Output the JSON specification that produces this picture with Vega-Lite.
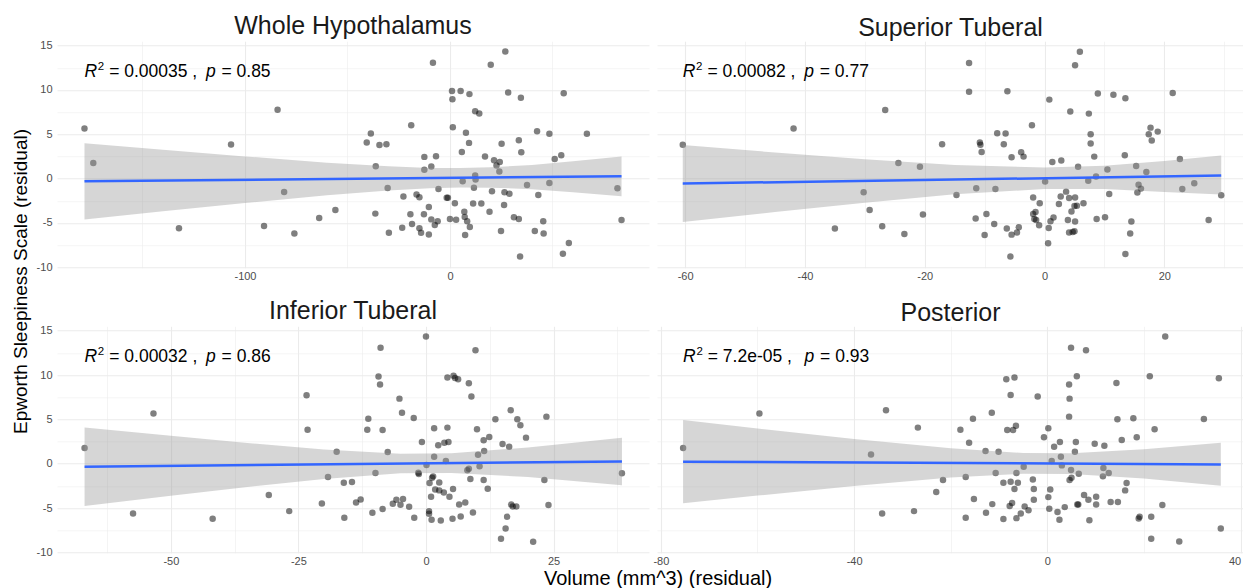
{
"$schema": "https://vega.github.io/schema/vega-lite/v6.json",
"background": "white",
"padding": {"left": 11, "top": 13.2, "right": 0, "bottom": 0},
"title": {"text": "Epworth Sleepiness Scale (residual)", "orient": "left", "anchor": "middle", "fontSize": 19, "frame": "bounds", "baseline": "bottom", "offset": -13.5, "dx": 20, "color": "#000000"},
"config": {
  "view": {"stroke": null},
  "font": "Liberation Sans",
  "axis": {"domain": false, "ticks": false, "tickSize": 0, "gridColor": "#EBEBEB", "labelColor": "#4D4D4D", "labelFontSize": 11, "labelFont": "Liberation Sans", "labelOverlap": false},
  "axisX": {"labelPadding": 3},
  "axisY": {"labelPadding": 5},
  "title": {"fontSize": 25, "fontWeight": "normal", "color": "#1A1A1A", "font": "Liberation Sans", "anchor": "middle", "frame": "group", "offset": 0.5, "baseline": "alphabetic"}
},
"datasets": {
  "p1": [{"x":-178.3,"y":5.65},{"x":-174,"y":1.77},{"x":-132.2,"y":-5.6},{"x":-106.8,"y":3.84},{"x":-90.7,"y":-5.35},{"x":-84.1,"y":7.76},{"x":-80.9,"y":-1.5},{"x":-75.9,"y":-6.2},{"x":-63.8,"y":-4.44},{"x":-55.9,"y":-3.54},{"x":-40.6,"y":4.07},{"x":-38.6,"y":5.08},{"x":-36.2,"y":1.39},{"x":-36.4,"y":-3.95},{"x":-34.4,"y":3.8},{"x":-31,"y":3.88},{"x":-30.4,"y":-1.05},{"x":-29.8,"y":-6.1},{"x":-23.3,"y":-5.54},{"x":-22.7,"y":-2.03},{"x":-18.9,"y":6.03},{"x":-19.3,"y":-4.03},{"x":-18.5,"y":-5.12},{"x":-16.3,"y":-1.8},{"x":-14.9,"y":-2.1},{"x":-14.9,"y":-5.6},{"x":-14.1,"y":-6.1},{"x":-12.5,"y":2.45},{"x":-12.5,"y":1.0},{"x":-12.7,"y":-4.03},{"x":-10.3,"y":-3.2},{"x":-10.3,"y":-6.3},{"x":-9.1,"y":1.36},{"x":-9.1,"y":-4.6},{"x":-8.3,"y":13.07},{"x":-7.4,"y":-5.24},{"x":-6.8,"y":2.52},{"x":-6.0,"y":-4.8},{"x":-5.6,"y":-1.17},{"x":-1.6,"y":-2.15},{"x":-1,"y":-2.15},{"x":0,"y":-4.56},{"x":1,"y":9.87},{"x":1.2,"y":8.96},{"x":1.4,"y":5.8},{"x":2.4,"y":-2.79},{"x":3,"y":-4.63},{"x":5.2,"y":9.87},{"x":5.8,"y":3.01},{"x":6.2,"y":-0.3},{"x":7,"y":-3.73},{"x":7.2,"y":-4.33},{"x":7.4,"y":-6.37},{"x":7.8,"y":5.16},{"x":8.4,"y":-4.82},{"x":9.3,"y":4.03},{"x":9.5,"y":9.53},{"x":9.7,"y":-5.46},{"x":11.3,"y":-2.82},{"x":11.7,"y":-1.02},{"x":12.3,"y":7.6},{"x":12.3,"y":0.34},{"x":12.5,"y":-0.1},{"x":14.3,"y":7.34},{"x":15.3,"y":-2.82},{"x":17.1,"y":2.49},{"x":19.3,"y":-3.73},{"x":19.9,"y":12.84},{"x":20.5,"y":-1.43},{"x":21.5,"y":2.07},{"x":22.7,"y":1.47},{"x":24.1,"y":0.79},{"x":24.3,"y":1.88},{"x":24.9,"y":-5.91},{"x":25.2,"y":3.92},{"x":26.4,"y":-2.98},{"x":26.6,"y":-1.54},{"x":27,"y":14.35},{"x":28.4,"y":9.72},{"x":29,"y":-1.7},{"x":31.2,"y":-4.37},{"x":33.6,"y":4.33},{"x":33.6,"y":-4.56},{"x":34.2,"y":-8.78},{"x":34.6,"y":9.11},{"x":34.8,"y":2.98},{"x":37.6,"y":-0.72},{"x":41.4,"y":-5.91},{"x":42.5,"y":5.35},{"x":43.1,"y":-1.85},{"x":45.5,"y":-4.82},{"x":45.7,"y":-6.18},{"x":48.5,"y":-0.49},{"x":48.5,"y":5.05},{"x":51.1,"y":2.22},{"x":54.3,"y":2.64},{"x":55.1,"y":-8.47},{"x":55.5,"y":9.64},{"x":58,"y":-7.27},{"x":66.8,"y":5.05},{"x":81.7,"y":-1.09},{"x":83.7,"y":-4.67}],
  "b1": [{"x":-178.3,"y":-4.6,"y2":4.0},{"x":-140,"y":-3.69,"y2":3.25},{"x":-100,"y":-2.76,"y2":2.5},{"x":-60,"y":-1.88,"y2":1.8},{"x":-30,"y":-1.34,"y2":1.38},{"x":-10,"y":-1.09,"y2":1.21},{"x":5,"y":-1.0,"y2":1.2},{"x":20,"y":-1.02,"y2":1.28},{"x":40,"y":-1.19,"y2":1.53},{"x":60,"y":-1.54,"y2":1.96},{"x":83.7,"y":-2.0,"y2":2.49}],
  "l1": [{"x":-178.3,"y":-0.3},{"x":83.7,"y":0.26}],
  "s1": [{"x":-178.3,"y":11.45,"r2":"= 0.00035 ,","p":"= 0.85"}],
  "p2": [{"x":-60.4,"y":3.83},{"x":-41.9,"y":5.64},{"x":-35,"y":-5.64},{"x":-30.2,"y":-1.54},{"x":-29.2,"y":-3.53},{"x":-27.1,"y":-5.38},{"x":-26.6,"y":7.74},{"x":-24.4,"y":1.77},{"x":-23.4,"y":-6.24},{"x":-20.8,"y":1.35},{"x":-20.3,"y":-4.06},{"x":-17.1,"y":3.87},{"x":-14.7,"y":-1.84},{"x":-12.6,"y":13.05},{"x":-12.6,"y":9.81},{"x":-11.5,"y":-4.51},{"x":-11.4,"y":-1.09},{"x":-10.8,"y":4.06},{"x":-10.7,"y":3.83},{"x":-10.5,"y":3.0},{"x":-10,"y":-6.35},{"x":-9.7,"y":-3.98},{"x":-8.4,"y":-5.11},{"x":-8.2,"y":-1.17},{"x":-7.9,"y":5.11},{"x":-6.8,"y":3.87},{"x":-6.5,"y":5.08},{"x":-6.3,"y":-5.64},{"x":-6.2,"y":9.85},{"x":-5.7,"y":-8.8},{"x":-5.5,"y":-6.32},{"x":-5.5,"y":2.41},{"x":-4.6,"y":-6.09},{"x":-4.3,"y":-5.49},{"x":-3.9,"y":2.97},{"x":-3.5,"y":2.48},{"x":-2.1,"y":6.02},{"x":-1.9,"y":-2.14},{"x":-1.9,"y":-3.98},{"x":-1.7,"y":-4.55},{"x":-1.5,"y":-3.76},{"x":-1.4,"y":-4.66},{"x":-0.9,"y":-5.26},{"x":-0.8,"y":-2.78},{"x":0.1,"y":-0.34},{"x":0.6,"y":-7.29},{"x":0.7,"y":-5.56},{"x":0.8,"y":8.91},{"x":1,"y":-4.81},{"x":1.3,"y":1.88},{"x":1.5,"y":-4.4},{"x":2.4,"y":-2.86},{"x":2.7,"y":-2.03},{"x":2.8,"y":2.03},{"x":3.6,"y":-1.47},{"x":3.9,"y":-4.66},{"x":4.1,"y":-2.18},{"x":4.1,"y":-6.09},{"x":4.3,"y":7.56},{"x":4.5,"y":-3.72},{"x":4.7,"y":-6.02},{"x":5,"y":-3.08},{"x":5,"y":-5.94},{"x":5.1,"y":-4.85},{"x":5.1,"y":12.78},{"x":5.1,"y":-2.14},{"x":5.4,"y":-3.05},{"x":5.6,"y":1.35},{"x":5.9,"y":14.32},{"x":6.5,"y":-2.78},{"x":7.3,"y":-0.23},{"x":7.4,"y":7.33},{"x":7.7,"y":5.0},{"x":7.7,"y":3.95},{"x":8.3,"y":2.48},{"x":8.6,"y":0.23},{"x":8.7,"y":-4.55},{"x":8.9,"y":9.59},{"x":10.1,"y":-4.36},{"x":10.5,"y":1.02},{"x":10.8,"y":-1.73},{"x":11.5,"y":9.47},{"x":13.4,"y":2.63},{"x":13.5,"y":9.06},{"x":13.5,"y":-8.5},{"x":14.3,"y":-6.2},{"x":14.5,"y":-4.85},{"x":15.3,"y":1.43},{"x":15.5,"y":-1.58},{"x":15.7,"y":-0.68},{"x":16.1,"y":-1.13},{"x":17,"y":0.75},{"x":17.4,"y":5.0},{"x":17.7,"y":5.75},{"x":17.9,"y":4.29},{"x":18.9,"y":5.3},{"x":21.4,"y":9.66},{"x":22.6,"y":2.22},{"x":23,"y":-1.17},{"x":25,"y":-0.53},{"x":27.4,"y":-4.66},{"x":29.5,"y":-1.88}],
  "b2": [{"x":-60.4,"y":-4.9,"y2":3.78},{"x":-45,"y":-3.77,"y2":2.95},{"x":-30,"y":-2.71,"y2":2.19},{"x":-15,"y":-1.76,"y2":1.54},{"x":0,"y":-1.17,"y2":1.25},{"x":10,"y":-1.17,"y2":1.45},{"x":20,"y":-1.51,"y2":1.99},{"x":29.5,"y":-1.8,"y2":2.62}],
  "l2": [{"x":-60.4,"y":-0.56},{"x":29.5,"y":0.34}],
  "s2": [{"x":-60.4,"y":11.45,"r2":"= 0.00082 ,","p":"= 0.77"}],
  "p3": [{"x":-66.9,"y":1.77},{"x":-57.4,"y":-5.61},{"x":-53.4,"y":5.65},{"x":-41.8,"y":-6.21},{"x":-30.8,"y":-3.54},{"x":-26.8,"y":-5.35},{"x":-23.4,"y":7.72},{"x":-23.2,"y":3.84},{"x":-20.4,"y":-4.48},{"x":-19.2,"y":-1.51},{"x":-17.5,"y":1.36},{"x":-16.1,"y":-2.15},{"x":-16,"y":-6.1},{"x":-14.5,"y":-2.07},{"x":-13.7,"y":-4.37},{"x":-12.8,"y":-4.03},{"x":-11.5,"y":3.84},{"x":-11.3,"y":5.08},{"x":-10.5,"y":-5.54},{"x":-9.9,"y":-1.05},{"x":-9.3,"y":9.83},{"x":-9,"y":8.93},{"x":-8.9,"y":13.07},{"x":-8.5,"y":-5.12},{"x":-8.5,"y":3.8},{"x":-7.5,"y":1.32},{"x":-6.5,"y":-4.52},{"x":-5.8,"y":-4.07},{"x":-5.2,"y":7.34},{"x":-5,"y":-4.63},{"x":-4.7,"y":5.76},{"x":-4.5,"y":-3.99},{"x":-3.3,"y":-4.86},{"x":-2.4,"y":5.16},{"x":-2.3,"y":-6.1},{"x":-1.5,"y":-1.02},{"x":-1.4,"y":-1.17},{"x":-0.8,"y":2.45},{"x":0,"y":14.35},{"x":0.1,"y":-0.15},{"x":0.6,"y":-5.35},{"x":0.6,"y":-5.65},{"x":0.7,"y":-2.18},{"x":1,"y":-3.73},{"x":1.1,"y":-6.33},{"x":1.2,"y":-1.58},{"x":1.4,"y":-1.43},{"x":1.6,"y":3.99},{"x":1.6,"y":0.79},{"x":1.8,"y":-2.9},{"x":2.4,"y":2.07},{"x":2.6,"y":-2.11},{"x":2.6,"y":-3.01},{"x":2.9,"y":-6.4},{"x":3.5,"y":-3.24},{"x":3.6,"y":2.37},{"x":3.9,"y":0.3},{"x":4.2,"y":9.72},{"x":4.2,"y":4.07},{"x":4.4,"y":2.45},{"x":4.6,"y":-3.73},{"x":5.2,"y":-6.21},{"x":5.3,"y":-2.86},{"x":5.4,"y":9.91},{"x":5.7,"y":9.68},{"x":6.3,"y":9.53},{"x":6.5,"y":-4.6},{"x":6.8,"y":-5.95},{"x":7.7,"y":-4.37},{"x":8.1,"y":-0.75},{"x":8.4,"y":-0.56},{"x":8.4,"y":9.08},{"x":8.7,"y":-1.73},{"x":8.9,"y":7.57},{"x":9.2,"y":-5.5},{"x":9.7,"y":12.81},{"x":10,"y":3.88},{"x":10.2,"y":1.02},{"x":10.5,"y":-0.3},{"x":11.3,"y":-1.85},{"x":11.3,"y":2.64},{"x":11.4,"y":1.43},{"x":12.1,"y":-2.82},{"x":12.4,"y":3.01},{"x":13.6,"y":5.01},{"x":14.7,"y":-8.47},{"x":15,"y":2.22},{"x":15.6,"y":-7.31},{"x":15.9,"y":-5.99},{"x":16.3,"y":1.92},{"x":16.6,"y":6.03},{"x":16.7,"y":-4.6},{"x":17,"y":-4.82},{"x":17.7,"y":-4.82},{"x":17.9,"y":5.01},{"x":18.5,"y":4.33},{"x":19.6,"y":2.94},{"x":21,"y":-8.81},{"x":23.2,"y":-1.85},{"x":23.6,"y":5.31},{"x":24,"y":-4.67},{"x":38.4,"y":-1.09}],
  "b3": [{"x":-66.9,"y":-4.76,"y2":4.08},{"x":-50,"y":-3.62,"y2":3.14},{"x":-35,"y":-2.63,"y2":2.33},{"x":-20,"y":-1.74,"y2":1.6},{"x":-5,"y":-1.09,"y2":1.13},{"x":5,"y":-1.04,"y2":1.18},{"x":20,"y":-1.51,"y2":1.83},{"x":38.4,"y":-2.42,"y2":2.94}],
  "l3": [{"x":-66.9,"y":-0.34},{"x":38.4,"y":0.26}],
  "s3": [{"x":-66.9,"y":11.45,"r2":"= 0.00032 ,","p":"= 0.86"}],
  "p4": [{"x":-75.4,"y":1.77},{"x":-59.6,"y":5.65},{"x":-36.5,"y":1.05},{"x":-34.2,"y":-5.61},{"x":-33.4,"y":6.03},{"x":-27.6,"y":-5.35},{"x":-26.8,"y":4.07},{"x":-23,"y":-3.2},{"x":-21.6,"y":-1.85},{"x":-18,"y":3.84},{"x":-16.9,"y":-1.51},{"x":-16.9,"y":-6.1},{"x":-16.2,"y":2.37},{"x":-15.4,"y":5.08},{"x":-15.2,"y":-3.99},{"x":-12.8,"y":1.43},{"x":-12.7,"y":-5.54},{"x":-11.5,"y":5.76},{"x":-11.4,"y":-4.56},{"x":-10.7,"y":-1.05},{"x":-10.1,"y":1.36},{"x":-9.1,"y":-6.25},{"x":-9.1,"y":-2.15},{"x":-8.5,"y":9.53},{"x":-8.3,"y":3.8},{"x":-7.8,"y":-4.78},{"x":-7.6,"y":-2.03},{"x":-7.6,"y":7.76},{"x":-7.3,"y":-4.44},{"x":-7.1,"y":3.8},{"x":-6.8,"y":9.72},{"x":-6.8,"y":-2.86},{"x":-6.5,"y":4.29},{"x":-6.4,"y":-1.05},{"x":-6.4,"y":-6.14},{"x":-6.1,"y":-2.15},{"x":-5.5,"y":-5.61},{"x":-4.9,"y":-0.34},{"x":-4.7,"y":-4.82},{"x":-3.9,"y":-5.24},{"x":-3,"y":-1.77},{"x":-2.8,"y":-2.86},{"x":-2.8,"y":-4.07},{"x":-2,"y":7.57},{"x":-0.7,"y":2.98},{"x":0.2,"y":-3.77},{"x":0.2,"y":3.99},{"x":0.4,"y":-5.08},{"x":0.6,"y":-2.9},{"x":0.9,"y":0.3},{"x":1.4,"y":1.92},{"x":2.1,"y":-5.46},{"x":2.5,"y":-6.33},{"x":2.6,"y":2.45},{"x":2.8,"y":0.79},{"x":3,"y":-0.19},{"x":3.6,"y":-4.9},{"x":4.5,"y":5.31},{"x":4.5,"y":8.93},{"x":4.6,"y":7.34},{"x":4.6,"y":-1.85},{"x":4.9,"y":13.07},{"x":4.9,"y":-0.72},{"x":5,"y":-1.58},{"x":5.7,"y":1.36},{"x":5.9,"y":2.45},{"x":6.1,"y":9.87},{"x":6.2,"y":-4.6},{"x":6.4,"y":-4.6},{"x":6.5,"y":-1.13},{"x":7.6,"y":-3.54},{"x":8,"y":12.81},{"x":8.5,"y":-4.07},{"x":8.7,"y":-6.37},{"x":9.8,"y":2.26},{"x":10.1,"y":-3.73},{"x":10.1,"y":-4.6},{"x":11.5,"y":-1.43},{"x":11.6,"y":-0.49},{"x":11.8,"y":2.03},{"x":12.7,"y":-1.05},{"x":13.1,"y":-4.33},{"x":14.3,"y":9.11},{"x":14.5,"y":5.01},{"x":14.6,"y":-4.33},{"x":15.4,"y":2.67},{"x":16.1,"y":-3.01},{"x":16.4,"y":-2.18},{"x":17.8,"y":5.12},{"x":18.5,"y":2.98},{"x":18.9,"y":-6.18},{"x":19.1,"y":-5.99},{"x":21.2,"y":9.87},{"x":21.5,"y":-5.99},{"x":21.5,"y":-8.47},{"x":22.2,"y":3.88},{"x":23.8,"y":-4.67},{"x":24.4,"y":14.35},{"x":27.3,"y":-8.78},{"x":32.4,"y":5.05},{"x":35.5,"y":9.64},{"x":35.9,"y":-7.31}],
  "b4": [{"x":-75.4,"y":-4.46,"y2":4.92},{"x":-60,"y":-3.6,"y2":3.98},{"x":-40,"y":-2.53,"y2":2.79},{"x":-20,"y":-1.57,"y2":1.73},{"x":-5,"y":-1.12,"y2":1.2},{"x":5,"y":-1.15,"y2":1.17},{"x":20,"y":-1.68,"y2":1.62},{"x":35.9,"y":-2.5,"y2":2.37}],
  "l4": [{"x":-75.4,"y":0.23},{"x":35.9,"y":-0.08}],
  "s4": [{"x":-75.4,"y":11.45,"r2":"= 7.2e-05 ,","p":"= 0.93"}]
},
"vconcat": [{
  "title": {"text": "Volume (mm^3) (residual)", "orient": "bottom", "anchor": "middle", "fontSize": 20, "frame": "bounds", "baseline": "top", "offset": 2, "dx": 18, "color": "#000000"},
  "columns": 2,
  "spacing": {"row": 58.1, "column": 8},
  "bounds": "flush",
  "concat": [
      {"width": 592, "height": 226.5, "title": {"text": "Whole Hypothalamus"},
       "encoding": {
         "x": {"field": "x", "type": "quantitative", "scale": {"domain": [-191.7, 97.1], "nice": false, "zero": false}, "axis": {"title": null, "values": [-150, -100, -50, 0, 50], "labelExpr": "datum.value % 100 === 0 ? toString(datum.value) : ''", "gridWidth": {"condition": {"test": "datum.value % 100 === 0", "value": 1.1}, "value": 0.55}}},
         "y": {"field": "y", "type": "quantitative", "scale": {"domain": [-10.05, 15.5], "nice": false, "zero": false}, "axis": {"title": null, "values": [-10, -7.5, -5, -2.5, 0, 2.5, 5, 7.5, 10, 12.5, 15], "labelExpr": "datum.value % 5 === 0 ? toString(datum.value) : ''", "gridWidth": {"condition": {"test": "datum.value % 5 === 0", "value": 1.1}, "value": 0.55}}}
       },
       "layer": [
         {"data": {"name": "p1"}, "mark": {"type": "circle", "color": "#000000", "opacity": 0.5, "size": 42}},
         {"data": {"name": "b1"}, "mark": {"type": "area", "color": "#999999", "opacity": 0.4}, "encoding": {"y2": {"field": "y2"}}},
         {"data": {"name": "l1"}, "mark": {"type": "line", "color": "#3366FF", "strokeWidth": 2.5}, "encoding": {}},
         {"data": {"name": "s1"}, "mark": {"type": "text", "text": "R", "fontStyle": "italic", "fontSize": 17.5, "align": "left", "baseline": "alphabetic", "color": "#000000"}},
         {"data": {"name": "s1"}, "mark": {"type": "text", "text": "2", "fontSize": 11.5, "align": "left", "baseline": "alphabetic", "dx": 13.3, "dy": -7.6, "color": "#000000"}},
         {"data": {"name": "s1"}, "mark": {"type": "text", "fontSize": 17.5, "align": "left", "baseline": "alphabetic", "dx": 24.7, "color": "#000000"}, "encoding": {"text": {"field": "r2"}}},
         {"data": {"name": "s1"}, "mark": {"type": "text", "text": "p", "fontStyle": "italic", "fontSize": 17.5, "align": "left", "baseline": "alphabetic", "dx": 121.5, "color": "#000000"}},
         {"data": {"name": "s1"}, "mark": {"type": "text", "fontSize": 17.5, "align": "left", "baseline": "alphabetic", "dx": 137, "color": "#000000"}, "encoding": {"text": {"field": "p"}}}
       ]},
      {"width": 587, "height": 226.5, "title": {"text": "Superior Tuberal"},
       "encoding": {
         "x": {"field": "x", "type": "quantitative", "scale": {"domain": [-64.7, 33.3], "nice": false, "zero": false}, "axis": {"title": null, "values": [-60, -50, -40, -30, -20, -10, 0, 10, 20, 30], "labelExpr": "datum.value % 20 === 0 ? toString(datum.value) : ''", "gridWidth": {"condition": {"test": "datum.value % 20 === 0", "value": 1.1}, "value": 0.55}}},
         "y": {"field": "y", "type": "quantitative", "scale": {"domain": [-10.05, 15.5], "nice": false, "zero": false}, "axis": {"title": null, "labels": false, "values": [-10, -7.5, -5, -2.5, 0, 2.5, 5, 7.5, 10, 12.5, 15], "gridWidth": {"condition": {"test": "datum.value % 5 === 0", "value": 1.1}, "value": 0.55}}}
       },
       "layer": [
         {"data": {"name": "p2"}, "mark": {"type": "circle", "color": "#000000", "opacity": 0.5, "size": 42}},
         {"data": {"name": "b2"}, "mark": {"type": "area", "color": "#999999", "opacity": 0.4}, "encoding": {"y2": {"field": "y2"}}},
         {"data": {"name": "l2"}, "mark": {"type": "line", "color": "#3366FF", "strokeWidth": 2.5}, "encoding": {}},
         {"data": {"name": "s2"}, "mark": {"type": "text", "text": "R", "fontStyle": "italic", "fontSize": 17.5, "align": "left", "baseline": "alphabetic", "color": "#000000"}},
         {"data": {"name": "s2"}, "mark": {"type": "text", "text": "2", "fontSize": 11.5, "align": "left", "baseline": "alphabetic", "dx": 13.3, "dy": -7.6, "color": "#000000"}},
         {"data": {"name": "s2"}, "mark": {"type": "text", "fontSize": 17.5, "align": "left", "baseline": "alphabetic", "dx": 24.7, "color": "#000000"}, "encoding": {"text": {"field": "r2"}}},
         {"data": {"name": "s2"}, "mark": {"type": "text", "text": "p", "fontStyle": "italic", "fontSize": 17.5, "align": "left", "baseline": "alphabetic", "dx": 121.5, "color": "#000000"}},
         {"data": {"name": "s2"}, "mark": {"type": "text", "fontSize": 17.5, "align": "left", "baseline": "alphabetic", "dx": 137, "color": "#000000"}, "encoding": {"text": {"field": "p"}}}
       ]},
      {"width": 592, "height": 226.5, "title": {"text": "Inferior Tuberal"},
       "encoding": {
         "x": {"field": "x", "type": "quantitative", "scale": {"domain": [-72.3, 43.7], "nice": false, "zero": false}, "axis": {"title": null, "values": [-62.5, -50, -37.5, -25, -12.5, 0, 12.5, 25, 37.5], "labelExpr": "datum.value % 25 === 0 ? toString(datum.value) : ''", "gridWidth": {"condition": {"test": "datum.value % 25 === 0", "value": 1.1}, "value": 0.55}}},
         "y": {"field": "y", "type": "quantitative", "scale": {"domain": [-10.05, 15.5], "nice": false, "zero": false}, "axis": {"title": null, "values": [-10, -7.5, -5, -2.5, 0, 2.5, 5, 7.5, 10, 12.5, 15], "labelExpr": "datum.value % 5 === 0 ? toString(datum.value) : ''", "gridWidth": {"condition": {"test": "datum.value % 5 === 0", "value": 1.1}, "value": 0.55}}}
       },
       "layer": [
         {"data": {"name": "p3"}, "mark": {"type": "circle", "color": "#000000", "opacity": 0.5, "size": 42}},
         {"data": {"name": "b3"}, "mark": {"type": "area", "color": "#999999", "opacity": 0.4}, "encoding": {"y2": {"field": "y2"}}},
         {"data": {"name": "l3"}, "mark": {"type": "line", "color": "#3366FF", "strokeWidth": 2.5}, "encoding": {}},
         {"data": {"name": "s3"}, "mark": {"type": "text", "text": "R", "fontStyle": "italic", "fontSize": 17.5, "align": "left", "baseline": "alphabetic", "color": "#000000"}},
         {"data": {"name": "s3"}, "mark": {"type": "text", "text": "2", "fontSize": 11.5, "align": "left", "baseline": "alphabetic", "dx": 13.3, "dy": -7.6, "color": "#000000"}},
         {"data": {"name": "s3"}, "mark": {"type": "text", "fontSize": 17.5, "align": "left", "baseline": "alphabetic", "dx": 24.7, "color": "#000000"}, "encoding": {"text": {"field": "r2"}}},
         {"data": {"name": "s3"}, "mark": {"type": "text", "text": "p", "fontStyle": "italic", "fontSize": 17.5, "align": "left", "baseline": "alphabetic", "dx": 121.5, "color": "#000000"}},
         {"data": {"name": "s3"}, "mark": {"type": "text", "fontSize": 17.5, "align": "left", "baseline": "alphabetic", "dx": 137, "color": "#000000"}, "encoding": {"text": {"field": "p"}}}
       ]},
      {"width": 587, "height": 226.5, "title": {"text": "Posterior"},
       "encoding": {
         "x": {"field": "x", "type": "quantitative", "scale": {"domain": [-80.8, 40.7], "nice": false, "zero": false}, "axis": {"title": null, "values": [-80, -60, -40, -20, 0, 20, 40], "labelExpr": "datum.value % 40 === 0 ? toString(datum.value) : ''", "labelAlign": {"condition": {"test": "datum.value === 40", "value": "right"}, "value": "center"}, "gridWidth": {"condition": {"test": "datum.value % 40 === 0", "value": 1.1}, "value": 0.55}}},
         "y": {"field": "y", "type": "quantitative", "scale": {"domain": [-10.05, 15.5], "nice": false, "zero": false}, "axis": {"title": null, "labels": false, "values": [-10, -7.5, -5, -2.5, 0, 2.5, 5, 7.5, 10, 12.5, 15], "gridWidth": {"condition": {"test": "datum.value % 5 === 0", "value": 1.1}, "value": 0.55}}}
       },
       "layer": [
         {"data": {"name": "p4"}, "mark": {"type": "circle", "color": "#000000", "opacity": 0.5, "size": 42}},
         {"data": {"name": "b4"}, "mark": {"type": "area", "color": "#999999", "opacity": 0.4}, "encoding": {"y2": {"field": "y2"}}},
         {"data": {"name": "l4"}, "mark": {"type": "line", "color": "#3366FF", "strokeWidth": 2.5}, "encoding": {}},
         {"data": {"name": "s4"}, "mark": {"type": "text", "text": "R", "fontStyle": "italic", "fontSize": 17.5, "align": "left", "baseline": "alphabetic", "color": "#000000"}},
         {"data": {"name": "s4"}, "mark": {"type": "text", "text": "2", "fontSize": 11.5, "align": "left", "baseline": "alphabetic", "dx": 13.3, "dy": -7.6, "color": "#000000"}},
         {"data": {"name": "s4"}, "mark": {"type": "text", "fontSize": 17.5, "align": "left", "baseline": "alphabetic", "dx": 24.7, "color": "#000000"}, "encoding": {"text": {"field": "r2"}}},
         {"data": {"name": "s4"}, "mark": {"type": "text", "text": "p", "fontStyle": "italic", "fontSize": 17.5, "align": "left", "baseline": "alphabetic", "dx": 121.5, "color": "#000000"}},
         {"data": {"name": "s4"}, "mark": {"type": "text", "fontSize": 17.5, "align": "left", "baseline": "alphabetic", "dx": 137, "color": "#000000"}, "encoding": {"text": {"field": "p"}}}
       ]}
  ]
}]
}
